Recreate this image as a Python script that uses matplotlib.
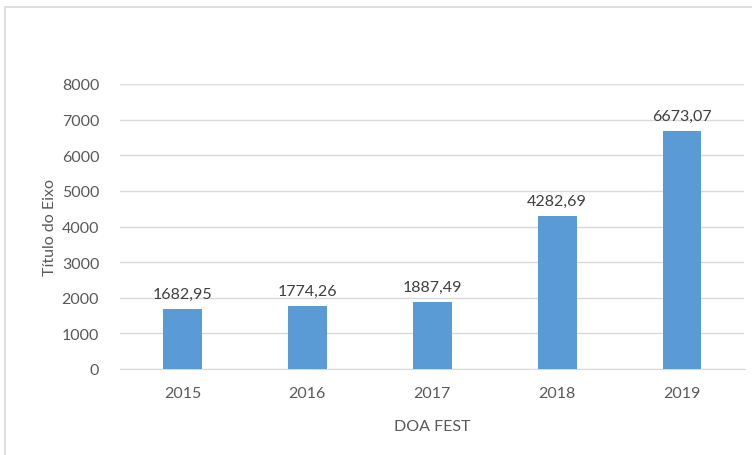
import numpy as np
import matplotlib.pyplot as plt
from matplotlib.patches import Rectangle

anos = ['2015', '2016', '2017', '2018', '2019']
valores = [1682.95, 1774.26, 1887.49, 4282.69, 6673.07]
rotulos = ['1682,95', '1774,26', '1887,49', '4282,69', '6673,07']
yticks = [0, 1000, 2000, 3000, 4000, 5000, 6000, 7000, 8000]

plt.rcParams['font.family'] = ['Lato', 'DejaVu Sans']

fig = plt.figure(figsize=(7.52, 4.56), dpi=100)
fig.patches.append(Rectangle((5/752, -0.1), 1.2, 1.1 - 8/456, transform=fig.transFigure,
                             fill=False, edgecolor='#d9d9d9', linewidth=1.2))
ax = fig.add_axes([120/752, 1 - 370/456, 624.5/752, 285/456])

x = np.arange(len(anos))
ax.bar(x, valores, width=0.31, color='#5b9bd5', zorder=3)
for xi, v, r in zip(x, valores, rotulos):
    ax.text(xi, v + 230, r, ha='center', va='bottom', fontsize=11.5, color='#404040')

ax.set_xlim(-0.5, len(anos) - 0.5)
ax.set_ylim(0, 8000)
ax.set_yticks(yticks)
ax.set_xticks(x)
ax.set_xticklabels(anos)
ax.grid(axis='y', color='#d9d9d9', linewidth=1, zorder=0)
for s in ['top', 'right', 'left']:
    ax.spines[s].set_visible(False)
ax.spines['bottom'].set_color('#d9d9d9')
ax.tick_params(axis='both', length=0, labelsize=11.5, labelcolor='#595959')
ax.tick_params(axis='y', pad=15)
ax.tick_params(axis='x', pad=12)
ax.set_xlabel('DOA FEST', fontsize=11.5, color='#595959', labelpad=14)
ax.set_ylabel('Título do Eixo', fontsize=11.5, color='#595959', labelpad=3)

fig.savefig('out.png', dpi=100)
